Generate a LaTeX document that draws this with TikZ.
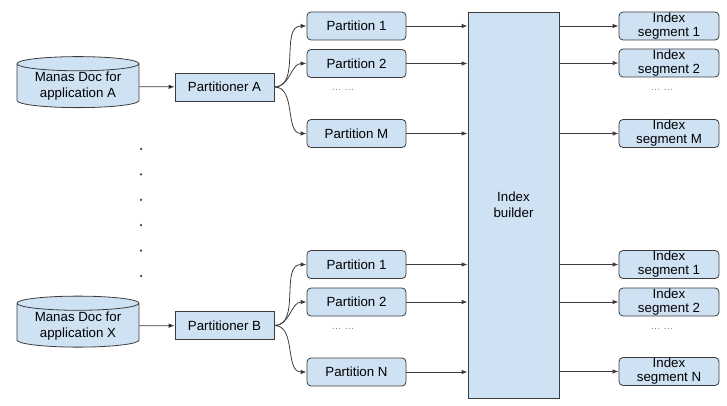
\documentclass[tikz,border=0pt]{standalone}
\usepackage{fontspec}
\setmainfont{Liberation Sans}
\usetikzlibrary{shapes.geometric, positioning, arrows.meta}
\definecolor{boxblue}{HTML}{CFE2F3}
\definecolor{edgegray}{HTML}{3C3C3C}
\tikzset{
    x=1pt, y=-1pt,
    >={Latex[length=6pt, width=4.5pt]}, % small filled heads
    every node/.style={font=\fontsize{13.3}{16}\selectfont},
    box/.style={draw=edgegray, fill=boxblue, thick, minimum width=99pt, minimum height=28pt},
    db/.style={cylinder, shape border rotate=90, aspect=0.16, draw=edgegray, fill=boxblue, thick,
               minimum width=122pt, minimum height=51pt, align=center, inner sep=1pt},
    splitter/.style={box},
    part/.style={box, rounded corners=4pt},
    builder/.style={box, minimum width=91pt, minimum height=386pt, align=center},
    seg/.style={part, minimum width=100pt, inner sep=0pt, align=center,
                font=\fontsize{13.3}{14}\selectfont},
    gap/.style={text=gray, font=\fontsize{10}{10}\selectfont},
    vdot/.style={circle, fill=edgegray, inner sep=0pt, minimum size=2.5pt},
    link/.style={->, draw=edgegray, thick},
}
\begin{document}
\begin{tikzpicture}
    \useasboundingbox (0,0) rectangle (727,406);

    % sources
    \node[db] (dbA) at (78,86.5) {Manas Doc for\\application A};
    \node[db] (dbX) at (78,326) {Manas Doc for\\application X};
    \node[splitter] (pA) at (224.5,87) {Partitioner A};
    \node[splitter] (pB) at (224.5,325.5) {Partitioner B};

    % partitions
    \node[part] (a1) at (356.5,26) {Partition 1};
    \node[part] (a2) at (356.5,63.5) {Partition 2};
    \node[gap]  (ga) at (343,90) {\dots\ \dots};
    \node[part] (aM) at (356.5,133.5) {Partition M};
    \node[part] (b1) at (356.5,264.5) {Partition 1};
    \node[part] (b2) at (356.5,302) {Partition 2};
    \node[gap]  (gb) at (343,329) {\dots\ \dots};
    \node[part] (bN) at (356.5,372) {Partition N};

    \node[builder] (build) at (513.5,205) {Index\\builder};

    % segments
    \node[seg] (s1) at (669,26) {Index\\segment 1};
    \node[seg] (s2) at (669,63) {Index\\segment 2};
    \node[gap] (gs) at (662,90) {\dots\ \dots};
    \node[seg] (sM) at (669,133.5) {Index\\segment M};
    \node[seg] (t1) at (669,264.5) {Index\\segment 1};
    \node[seg] (t2) at (669,302) {Index\\segment 2};
    \node[gap] (gt) at (662,329) {\dots\ \dots};
    \node[seg] (tN) at (669,371.5) {Index\\segment N};

    % vertical dots between the two sources
    \foreach \k in {0,...,5}
        \node[vdot] (d\k) at (141,149+25.4*\k) {};

    \path[link]
        (dbA) edge (pA)
        (dbX) edge (pB);
    \foreach \p in {a1,a2,aM}
        \draw[link] (pA.east) to[out=0, in=180] (\p.west);
    \foreach \p in {b1,b2,bN}
        \draw[link] (pB.east) to[out=0, in=180] (\p.west);
    \foreach \p in {a1,a2,aM,b1,b2,bN}
        \draw[link] (\p) -- (\p -| build.west);
    \foreach \s in {s1,s2,sM,t1,t2,tN}
        \draw[link] (\s -| build.east) -- (\s);
\end{tikzpicture}
\end{document}
